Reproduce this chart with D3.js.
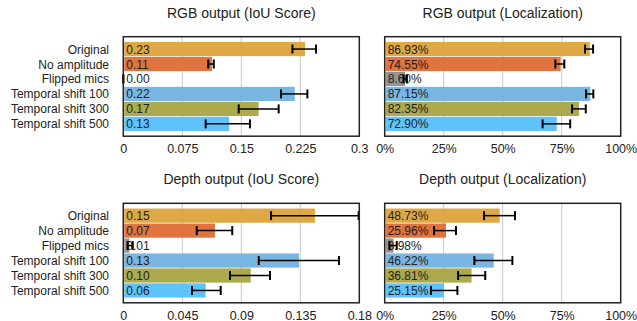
<!DOCTYPE html>
<html>
<head>
<meta charset="utf-8">
<script src="https://cdn.jsdelivr.net/npm/d3@7"></script>
<style>
  body { margin: 0; background: #fff; }
  svg text { font-family: "Liberation Sans", Arial, sans-serif; fill: #222; }
</style>
</head>
<body>
<div id="chart"></div>
<script>
var width = 637, height = 321

var categories = ["Original", "No amplitude", "Flipped mics", "Temporal shift 100", "Temporal shift 300", "Temporal shift 500"]
var colors = ["#dca43b", "#de6b34", "#918c87", "#73b2e0", "#a9a544", "#56bffa"]

// values and error bar extents [lo, hi]
var rgbIou = [0.231, 0.1127, 0.0, 0.218, 0.172, 0.1344]
var rgbIouLabels = ["0.23", "0.11", "0.00", "0.22", "0.17", "0.13"]
var rgbIouErr = [[0.215, 0.245], [0.108, 0.115], [0.0, 0.0], [0.2005, 0.234], [0.1467, 0.1975], [0.1047, 0.161]]

var rgbLoc = [86.93, 74.55, 8.6, 87.15, 82.35, 72.90]
var rgbLocLabels = ["86.93%", "74.55%", "8.60%", "87.15%", "82.35%", "72.90%"]
var rgbLocErr = [[84.9, 88.3], [72.3, 76.1], [8.0, 9.4], [85.3, 88.4], [79.4, 85.2], [66.9, 78.6]]

var depthIou = [0.1462, 0.0699, 0.0046, 0.134, 0.0972, 0.0628]
var depthIouLabels = ["0.15", "0.07", "0.01", "0.13", "0.10", "0.06"]
var depthIouErr = [[0.1127, 0.1795], [0.056, 0.0831], [0.0033, 0.0072], [0.1033, 0.1645], [0.0814, 0.1119], [0.0524, 0.0743]]

var depthLoc = [48.73, 25.96, 3.7, 46.22, 36.81, 25.15]
var depthLocLabels = ["48.73%", "25.96%", "3.98%", "46.22%", "36.81%", "25.15%"]
var depthLocErr = [[42.1, 55.2], [20.9, 30.2], [2.0, 5.1], [38.0, 54.1], [31.1, 42.6], [19.6, 30.8]]

var iouTicksRgb = [0, 0.075, 0.15, 0.225, 0.3]
var iouTicksDepth = [0, 0.045, 0.09, 0.135, 0.18]
var locTicks = [0, 25, 50, 75, 100]

var svg = d3.select("#chart").append("svg")
  .attr("width", width)
  .attr("height", height)

function drawPanel(opt) {
  var x = d3.scaleLinear().domain([0, opt.max]).range([opt.left, opt.left + 236])
  var y = d3.scaleBand().domain(categories).range([opt.top, opt.top + 99.5])
    .paddingInner(0.05).paddingOuter(0.35)

  var g = svg.append("g")

  // title
  g.append("text")
    .attr("x", opt.left + 118).attr("y", opt.top - 19)
    .attr("text-anchor", "middle")
    .style("font-size", "14px")
    .text(opt.title)

  // grid
  g.selectAll(".grid").data(opt.ticks.slice(1, -1)).enter().append("line")
    .attr("x1", function(d) { return x(d) }).attr("x2", function(d) { return x(d) })
    .attr("y1", opt.top).attr("y2", opt.top + 99.5)
    .attr("stroke", "#c8c8c8").attr("stroke-width", 1)

  // bars
  g.selectAll(".bar").data(opt.values).enter().append("rect")
    .attr("x", x(0) + 1)
    .attr("y", function(d, i) { return y(categories[i]) })
    .attr("width", function(d) { return Math.max(0, x(d) - x(0) - 1) })
    .attr("height", y.bandwidth())
    .attr("fill", function(d, i) { return colors[i] })
    .attr("fill-opacity", 0.95)

  // value labels
  g.selectAll(".lbl").data(opt.labels).enter().append("text")
    .attr("x", x(0) + 3)
    .attr("y", function(d, i) { return y(categories[i]) + y.bandwidth() / 2 + 4.5 })
    .style("font-size", "12px")
    .text(function(d) { return d })

  // error bars
  var eb = g.selectAll(".err").data(opt.err).enter().append("g")
    .attr("stroke", "#000").attr("stroke-width", 1.5)
  eb.append("line")
    .attr("x1", function(d) { return x(d[0]) }).attr("x2", function(d) { return x(d[1]) })
    .attr("y1", function(d, i) { return y(categories[i]) + y.bandwidth() / 2 })
    .attr("y2", function(d, i) { return y(categories[i]) + y.bandwidth() / 2 })
  eb.selectAll(".cap").data(function(d, i) { return [[d[0], i], [d[1], i]] }).enter().append("line")
    .attr("x1", function(d) { return x(d[0]) }).attr("x2", function(d) { return x(d[0]) })
    .attr("y1", function(d) { return y(categories[d[1]]) + y.bandwidth() / 2 - 4.5 })
    .attr("y2", function(d) { return y(categories[d[1]]) + y.bandwidth() / 2 + 4.5 })
    .attr("stroke-width", 2)

  // frame
  g.append("rect")
    .attr("x", opt.left).attr("y", opt.top)
    .attr("width", 236).attr("height", 99.5)
    .attr("fill", "none").attr("stroke", "#222").attr("stroke-width", 1.5)

  // x axis
  var xAxis = g.append("g")
    .attr("transform", "translate(0," + (opt.top + 99.5) + ")")
    .call(d3.axisBottom(x).tickValues(opt.ticks).tickSize(0).tickPadding(8)
      .tickFormat(opt.fmt))
  xAxis.select(".domain").remove()
  xAxis.selectAll("text").style("font-size", "12.5px").style("font-family", "Liberation Sans, Arial, sans-serif").attr("fill", "#222")

  // y labels
  if (opt.yLabels) {
    g.selectAll(".ylbl").data(categories).enter().append("text")
      .attr("x", 109)
      .attr("y", function(d) { return y(d) + y.bandwidth() / 2 + 4.5 })
      .attr("text-anchor", "end")
      .style("font-size", "12px")
      .text(function(d) { return d })
  }
}

var fmtNum = function(d) { return d === 0 ? "0" : String(d) }
var fmtPct = function(d) { return d + "%" }

drawPanel({ title: "RGB output (IoU Score)", left: 123.3, top: 36.7, max: 0.3, ticks: iouTicksRgb, fmt: fmtNum,
  values: rgbIou, labels: rgbIouLabels, err: rgbIouErr, yLabels: true })
drawPanel({ title: "RGB output (Localization)", left: 384.7, top: 36.7, max: 100, ticks: locTicks, fmt: fmtPct,
  values: rgbLoc, labels: rgbLocLabels, err: rgbLocErr, yLabels: false })
drawPanel({ title: "Depth output (IoU Score)", left: 123.3, top: 203.3, max: 0.18, ticks: iouTicksDepth, fmt: fmtNum,
  values: depthIou, labels: depthIouLabels, err: depthIouErr, yLabels: true })
drawPanel({ title: "Depth output (Localization)", left: 384.7, top: 203.3, max: 100, ticks: locTicks, fmt: fmtPct,
  values: depthLoc, labels: depthLocLabels, err: depthLocErr, yLabels: false })
</script>
</body>
</html>
